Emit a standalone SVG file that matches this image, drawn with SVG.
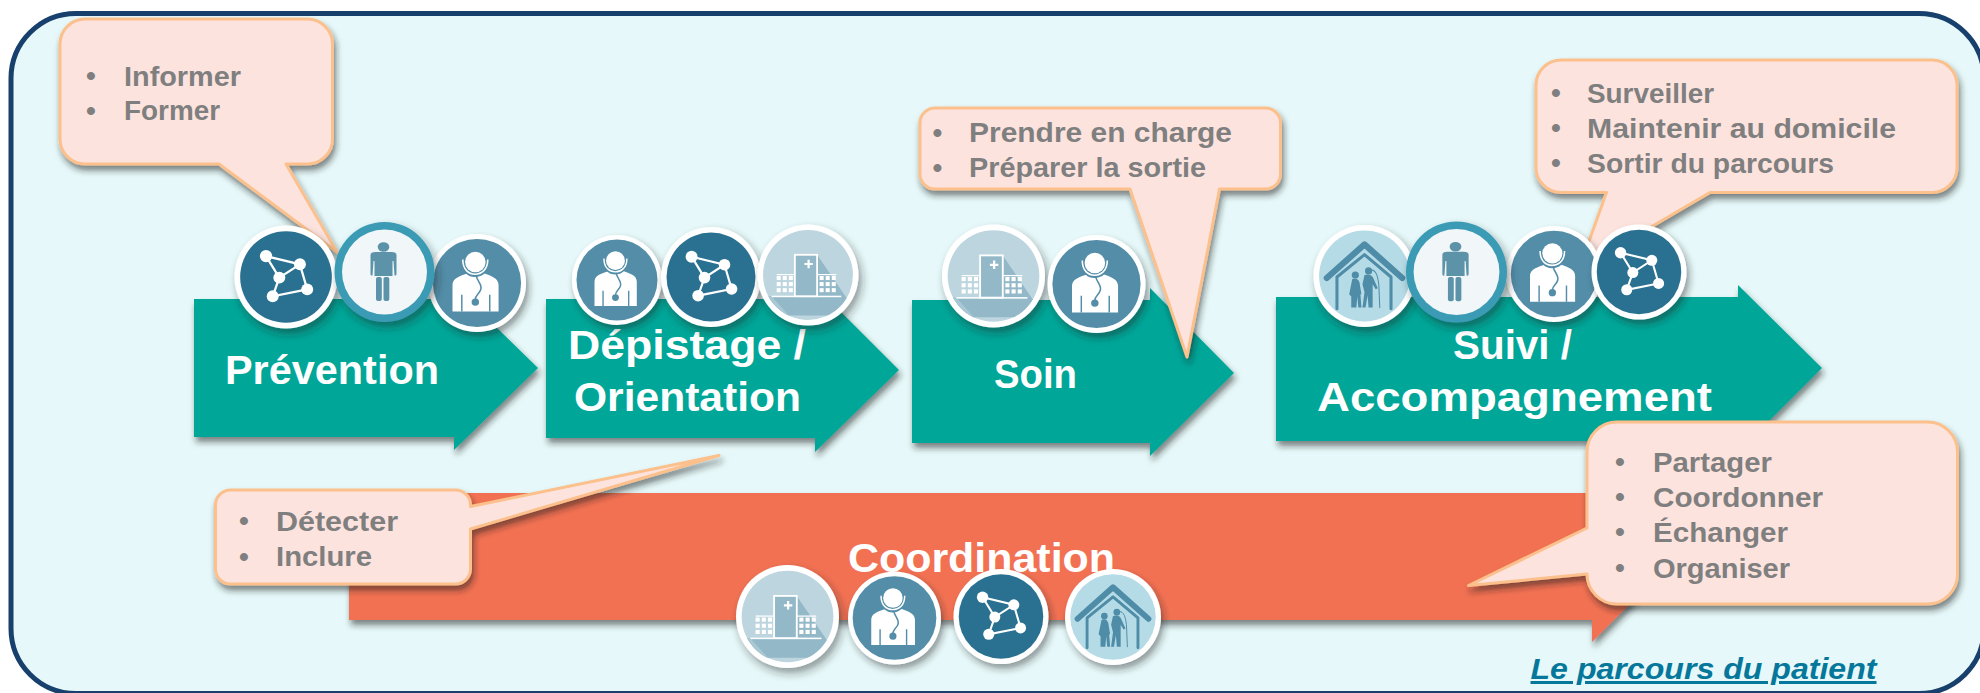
<svg xmlns="http://www.w3.org/2000/svg" width="1980" height="693" viewBox="0 0 1980 693">
<style>
.arrow{fill:#02A698;filter:url(#sh)}
.orange{fill:#F27153;filter:url(#sh)}
.call{fill:#FDE3DE;stroke:#FBC08C;stroke-width:3;stroke-linejoin:round;filter:url(#sh)}
.lab{font-family:"Liberation Sans",Arial,sans-serif;font-weight:700;font-size:40px;fill:#fff}
.t{font-family:"Liberation Sans",Arial,sans-serif;font-weight:700;font-size:28px;fill:#7F7F7F}
.b{font-family:"Liberation Sans",Arial,sans-serif;font-weight:700;font-size:28px;fill:#7F7F7F;text-anchor:middle}
.ic{filter:url(#sh2)}
</style>
<defs>
<filter id="sh" x="-10%" y="-10%" width="125%" height="130%"><feDropShadow dx="2" dy="5" stdDeviation="3" flood-color="#222" flood-opacity="0.55"/></filter>
<filter id="sh2" x="-25%" y="-25%" width="150%" height="150%"><feDropShadow dx="3" dy="5" stdDeviation="4" flood-color="#222" flood-opacity="0.45"/></filter>
<clipPath id="c45"><circle r="44.5"/></clipPath>
<g id="net">
<circle r="50" fill="#fff"/><circle r="44.5" fill="#2A7191"/>
<g stroke="#fff" stroke-width="2.200" fill="none"><path d="M-19.4-20.3L13.5-12.3L-6.5.6L-19.4-20.3M13.5-12.3L20.6 12L-12.9 18.7L-6.5.6"/></g>
<g fill="#fff"><circle cx="-19.4" cy="-20.3" r="6"/><circle cx="13.5" cy="-12.3" r="5.800"/><circle cx="-6.5" cy=".6" r="5.800"/><circle cx="20.6" cy="12" r="5.800"/><circle cx="-12.9" cy="18.7" r="5.800"/></g>
</g>
<g id="per">
<circle r="50" fill="#3A9AB4"/><circle r="42.500" fill="#F1F6F8"/>
<g fill="#5B93A8"><ellipse cx="-1" cy="-25" rx="5.8" ry="4.8"/>
<path d="M-14-17Q-14-20-9-20H7Q12-20 12-17V2Q12 4 10 3.500L9-11H8V4H-10V-11H-11L-12 3.500Q-14 4-14 2Z"/>
<rect x="-8.500" y="5" width="5.800" height="24" rx="2"/><rect x="-1" y="5" width="5.800" height="24" rx="2"/></g>
</g>
<g id="doc">
<circle r="50" fill="#fff"/><circle r="45" fill="#528DA8"/>
<path d="M-25 29V2C-25-5-18-7-9-10H7C15-7 22-5 22 2V29Z" fill="#fff"/>
<path d="M-15.500 12V29M13 12V29" stroke="#528DA8" stroke-width="1.500"/>
<path d="M-15-24C-15-11-8-7-2-7C4-7 12-11 12-24" fill="#528DA8" stroke="#528DA8" stroke-width="2"/>
<path d="M-14.500-24C-14.500-13-8-9-2-9C4-9 11-13 11-24" fill="none" stroke="#fff" stroke-width="1.600"/>
<circle cx="-1.700" cy="-21.500" r="10.500" fill="#fff"/>
<path d="M-1-8C0-2 5 1 4 6C3 11-2 12-1.700 17" fill="none" stroke="#528DA8" stroke-width="1.600"/>
<circle cx="-1.700" cy="19.500" r="3.800" fill="#528DA8"/>
</g>
<g id="win"><rect x="0" y="0" width="4" height="4"/><rect x="6" y="0" width="4" height="4"/><rect x="12" y="0" width="4" height="4"/><rect x="0" y="6" width="4" height="4"/><rect x="6" y="6" width="4" height="4"/><rect x="12" y="6" width="4" height="4"/><rect x="0" y="12" width="4" height="4"/><rect x="6" y="12" width="4" height="4"/><rect x="12" y="12" width="4" height="4"/></g>
<g id="hos">
<circle r="50" fill="#fff"/><circle r="44.5" fill="#BDD5DE"/>
<g clip-path="url(#c45)"><path d="M9-20L50 40H-50V21H9Z" fill="#93B8C8"/><path d="M-36 21L-10 50H-50V21Z" fill="#A9C8D4"/></g>
<g fill="#fff"><use href="#win" x="-31" y="1"/><use href="#win" x="11.500" y="1"/><rect x="-36" y="20.500" width="69" height="1.500"/>
<rect x="-31" y="-1" width="18" height="1.200"/><rect x="9" y="-1" width="19" height="1.200"/></g>
<rect x="-13" y="-20" width="22" height="41" fill="#93B8C8" stroke="#fff" stroke-width="1.800"/>
<path d="M-3.500-12h3v-3h2.200v3h3v2.200h-3v3h-2.200v-3h-3z" fill="#fff"/>
</g>
<g id="hou">
<circle r="50" fill="#fff"/><circle r="44.5" fill="#B5DBE6"/>
<g fill="none" stroke="#4F8CA8" stroke-linecap="round" stroke-linejoin="round">
<path d="M-37 2L0-31L37 2" stroke-width="6"/>
<path d="M-27 32V1L0-21L26 1V32" stroke-width="3"/>
<path d="M6-6C12-6 13 1 14 8L15 31" stroke-width="1"/>
</g>
<g fill="#4F8CA8"><circle cx="-9" cy="-1" r="3.500"/><circle cx="4" cy="-5" r="3.500"/>
<path d="M-12 3Q-7 1-5 6L-3 18H-4L-3 31H-6L-7 20L-8 31H-13V20L-15 18Z"/>
<path d="M0-1Q7-3 9 3L13 12L11 13L8 8L8 31H4L3 19L1 31H-2L0 16L-2 8Z"/></g>
</g>
</defs>

<g id="frame"><rect x="11" y="13.500" width="1973" height="680" rx="65" ry="65" fill="#E6F8F9" stroke="#17406D" stroke-width="5"/></g>

<g id="arrow-prevention"><path class="arrow" d="M194 299H454V286L538 368L454 450V437H194Z"/><text class="lab" x="225" y="384" textLength="214" lengthAdjust="spacingAndGlyphs">Prévention</text></g>
<g id="arrow-depistage"><path class="arrow" d="M546 299H815V286L899 370L815 452V438H546Z"/><text class="lab" x="568" y="359" textLength="238" lengthAdjust="spacingAndGlyphs">Dépistage /</text><text class="lab" x="574" y="411" textLength="227" lengthAdjust="spacingAndGlyphs">Orientation</text></g>
<g id="arrow-soin"><path class="arrow" d="M912 300H1150V288L1234 373L1150 456V443H912Z"/><text class="lab" x="994" y="388" textLength="83" lengthAdjust="spacingAndGlyphs">Soin</text></g>
<g id="arrow-suivi"><path class="arrow" d="M1276 297H1738V285L1822 368L1738 452V441H1276Z"/><text class="lab" x="1453" y="359" textLength="119" lengthAdjust="spacingAndGlyphs">Suivi /</text><text class="lab" x="1317" y="411" textLength="395" lengthAdjust="spacingAndGlyphs">Accompagnement</text></g>
<g id="arrow-coordination"><path class="orange" d="M349 493H1592V470L1678 556L1592 642V620H349Z"/><text class="lab" x="848" y="572" textLength="267" lengthAdjust="spacingAndGlyphs">Coordination</text></g>

<g id="callout-prevention"><path class="call" d="M85 19H307.500A25 25 0 0 1 332.500 44V139A25 25 0 0 1 307.500 164H286L337 252L219 164H85A25 25 0 0 1 60 139V44A25 25 0 0 1 85 19Z"/>
<text class="b" x="91" y="85">•</text><text class="t" x="124" y="86" textLength="117" lengthAdjust="spacingAndGlyphs">Informer</text>
<text class="b" x="91" y="120">•</text><text class="t" x="124" y="120" textLength="96" lengthAdjust="spacingAndGlyphs">Former</text></g>
<g id="callout-soin"><path class="call" d="M935 108H1265.500A15 15 0 0 1 1280.500 123V174A15 15 0 0 1 1265.500 189H1219.500L1187 357L1130 189H935A15 15 0 0 1 920 174V123A15 15 0 0 1 935 108Z"/>
<text class="b" x="937.500" y="142">•</text><text class="t" x="969" y="142" textLength="263" lengthAdjust="spacingAndGlyphs">Prendre en charge</text>
<text class="b" x="937.500" y="177">•</text><text class="t" x="969" y="177" textLength="237" lengthAdjust="spacingAndGlyphs">Préparer la sortie</text></g>
<g id="callout-suivi"><path class="call" d="M1561 60H1932A25 25 0 0 1 1957 85V167.500A25 25 0 0 1 1932 192.500H1710L1579 269L1606.500 192.500H1561A25 25 0 0 1 1536 167.500V85A25 25 0 0 1 1561 60Z"/>
<text class="b" x="1556" y="102">•</text><text class="t" x="1587" y="103" textLength="127" lengthAdjust="spacingAndGlyphs">Surveiller</text>
<text class="b" x="1556" y="137">•</text><text class="t" x="1587" y="138" textLength="309" lengthAdjust="spacingAndGlyphs">Maintenir au domicile</text>
<text class="b" x="1556" y="172">•</text><text class="t" x="1587" y="173" textLength="247" lengthAdjust="spacingAndGlyphs">Sortir du parcours</text></g>
<g id="callout-coordination"><path class="call" d="M1617 422H1927.500A30 30 0 0 1 1957.500 452V574A30 30 0 0 1 1927.500 604H1617A30 30 0 0 1 1587 574L1468.500 585.500L1587 528V452A30 30 0 0 1 1617 422Z"/>
<text class="b" x="1620" y="471">•</text><text class="t" x="1653" y="472" textLength="119" lengthAdjust="spacingAndGlyphs">Partager</text>
<text class="b" x="1620" y="506">•</text><text class="t" x="1653" y="507" textLength="170" lengthAdjust="spacingAndGlyphs">Coordonner</text>
<text class="b" x="1620" y="541">•</text><text class="t" x="1653" y="542" textLength="135" lengthAdjust="spacingAndGlyphs">Échanger</text>
<text class="b" x="1620" y="577">•</text><text class="t" x="1653" y="578" textLength="137" lengthAdjust="spacingAndGlyphs">Organiser</text></g>
<g id="callout-depistage"><path class="call" d="M230.500 490H455.500A15 15 0 0 1 470.500 505V506.500L719 455.500L470.500 529V569A15 15 0 0 1 455.500 584H230.500A15 15 0 0 1 215.500 569V505A15 15 0 0 1 230.500 490Z"/>
<text class="b" x="244" y="530">•</text><text class="t" x="276" y="531" textLength="122" lengthAdjust="spacingAndGlyphs">Détecter</text>
<text class="b" x="244" y="566">•</text><text class="t" x="276" y="566" textLength="96" lengthAdjust="spacingAndGlyphs">Inclure</text></g>

<g id="icons-prevention">
<use class="ic" href="#net" transform="translate(286 277) scale(1.03)"/>
<use class="ic" href="#doc" transform="translate(477 283) scale(.98)"/>
<use class="ic" href="#per" transform="translate(384.500 272)"/>
</g>
<g id="icons-depistage">
<use class="ic" href="#doc" transform="translate(617 280) scale(.9)"/>
<use class="ic" href="#net" transform="translate(711 277) scale(1)"/>
<use class="ic" href="#hos" transform="translate(808 275) scale(1.01)"/>
</g>
<g id="icons-soin">
<use class="ic" href="#hos" transform="translate(993.500 276) scale(1.03)"/>
<use class="ic" href="#doc" transform="translate(1096.500 284) scale(.98)"/>
</g>
<g id="icons-suivi">
<use class="ic" href="#hou" transform="translate(1364.500 276) scale(1.02)"/>
<use class="ic" href="#doc" transform="translate(1554 274) scale(.96)"/>
<use class="ic" href="#per" transform="translate(1456.500 272) scale(1.01)"/>
<use class="ic" href="#net" transform="translate(1639 272) scale(.95)"/>
</g>
<g id="icons-coordination">
<use class="ic" href="#hos" transform="translate(787.500 616.500) scale(1.03)"/>
<use class="ic" href="#doc" transform="translate(894.500 618) scale(.93)"/>
<use class="ic" href="#net" transform="translate(1001 616.500) scale(.95)"/>
<use class="ic" href="#hou" transform="translate(1113 617) scale(.96)"/>
</g>

<g id="caption"><text x="1530.500" y="679" font-family="'Liberation Sans',Arial,sans-serif" font-weight="700" font-style="italic" font-size="30" fill="#04779B" text-decoration="underline" textLength="346" lengthAdjust="spacingAndGlyphs">Le parcours du patient</text></g>
</svg>
